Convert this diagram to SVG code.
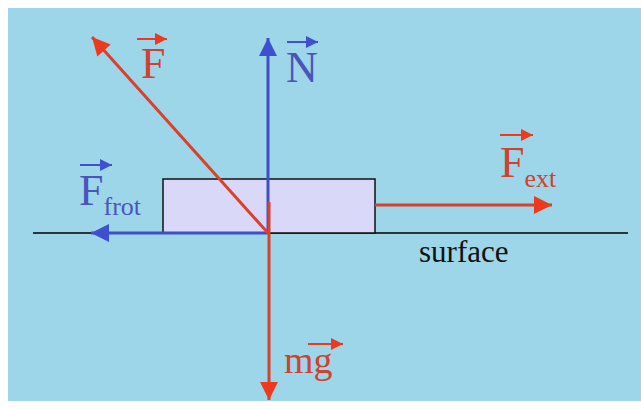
<svg xmlns="http://www.w3.org/2000/svg" width="641" height="409" viewBox="0 0 641 409">
<style>
.lbl{font-family:"Liberation Serif","Times New Roman",serif}
.red{fill:#cf4230}
.blue{fill:#4a55bc}
.rl{stroke:#d9412c;stroke-width:3;fill:none}
.bl{stroke:#3e4fc6;stroke-width:3;fill:none}
.ov{stroke-width:2;fill:none}
</style>
<defs>
<marker id="hr" viewBox="0 0 10 10" refX="10" refY="5" markerWidth="20" markerHeight="18" markerUnits="userSpaceOnUse" orient="auto"><path d="M0,0 L10,5 L0,10 z" fill="#ee3a1c"/></marker>
<marker id="hb" viewBox="0 0 10 10" refX="10" refY="5" markerWidth="20" markerHeight="18" markerUnits="userSpaceOnUse" orient="auto"><path d="M0,0 L10,5 L0,10 z" fill="#3e4fd0"/></marker>
<marker id="sr" viewBox="0 0 10 10" refX="10" refY="5" markerWidth="12" markerHeight="12" markerUnits="userSpaceOnUse" orient="auto"><path d="M0,0 L10,5 L0,10 z" fill="#ee3a1c"/></marker>
<marker id="sb" viewBox="0 0 10 10" refX="10" refY="5" markerWidth="12" markerHeight="12" markerUnits="userSpaceOnUse" orient="auto"><path d="M0,0 L10,5 L0,10 z" fill="#3e4fd0"/></marker>
</defs>
<rect width="641" height="409" fill="#ffffff"/>
<rect x="8" y="8" width="633" height="393" fill="#9dd6e8"/>
<g id="surface">
<line x1="33" y1="233" x2="628" y2="233" stroke="#000" stroke-width="1.5"/>
<text class="lbl" x="419" y="262" font-size="31" fill="#111">surface</text>
</g>
<g id="block">
<rect x="163" y="179" width="212" height="54" fill="#d9d8f8" stroke="#111" stroke-width="1.5"/>
</g>
<g id="connectors">
<line class="bl" x1="268" y1="233" x2="268" y2="38" marker-end="url(#hb)"/>
<line class="bl" x1="268" y1="233" x2="91" y2="233" stroke-width="4" marker-end="url(#hb)"/>
<line class="rl" x1="268" y1="233" x2="92" y2="37" marker-end="url(#hr)"/>
<line class="rl" x1="375" y1="205" x2="552" y2="205" stroke-width="4" marker-end="url(#hr)"/>
<line class="rl" x1="269" y1="202" x2="269" y2="400" stroke-width="4" marker-end="url(#hr)"/>
</g>
<g id="label-F">
<line class="ov" x1="137" y1="39" x2="167" y2="39" stroke="#ee3a1c" marker-end="url(#sr)"/>
<text class="lbl red" x="141" y="78" font-size="44">F</text>
</g>
<g id="label-N">
<line class="ov" x1="287" y1="42" x2="318" y2="42" stroke="#3e4fd0" marker-end="url(#sb)"/>
<text class="lbl blue" x="286" y="82" font-size="44">N</text>
</g>
<g id="label-Ffrot">
<line class="ov" x1="80" y1="165" x2="112" y2="165" stroke="#3e4fd0" marker-end="url(#sb)"/>
<text class="lbl blue" x="79" y="205" font-size="44">F<tspan font-size="26" dy="10">frot</tspan></text>
</g>
<g id="label-Fext">
<line class="ov" x1="500" y1="135" x2="533" y2="135" stroke="#ee3a1c" marker-end="url(#sr)"/>
<text class="lbl red" x="500" y="177" font-size="44">F<tspan font-size="26" dy="10">ext</tspan></text>
</g>
<g id="label-mg">
<line class="ov" x1="308" y1="344" x2="343" y2="344" stroke="#ee3a1c" marker-end="url(#sr)"/>
<text class="lbl red" x="284" y="373" font-size="38">mg</text>
</g>
</svg>
